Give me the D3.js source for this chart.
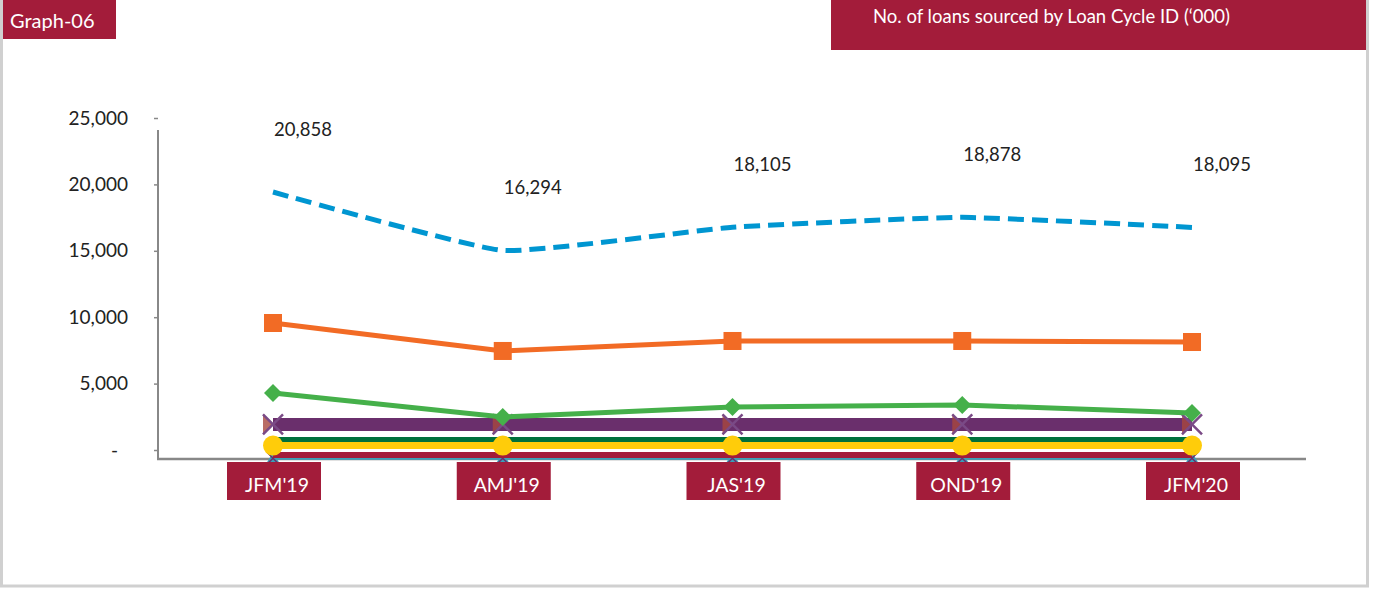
<!DOCTYPE html>
<html lang="en">
<head>
<meta charset="UTF-8">
<title>Graph-06</title>
<script src="https://d3js.org/d3.v7.min.js"></script>
<style>
  body { margin: 0; background: #fff; }
  svg { display: block; font-family: Lato, "Open Sans", sans-serif; }
</style>
</head>
<body>
<svg id="chart" width="1380" height="589"></svg>
<script>
// values in '000 loans
var quarters = ["JFM'19", "AMJ'19", "JAS'19", "OND'19", "JFM'20"];
var totalLoans = [20858, 16294, 18105, 18878, 18095];
var cycle1 = [10625, 8440, 9220, 9220, 9140];
var cycle2 = [5160, 3280, 4060, 4220, 3590];
var cycle3 = [2700, 2700, 2700, 2700, 2700];
var cycle4 = [1520, 1520, 1520, 1520, 1520];
var cycle5 = [1050, 1050, 1050, 1050, 1050];
var cycle6 = [310, 310, 310, 310, 310];
var cycle7 = [60, 60, 60, 60, 60];
var yTicks = [0, 5000, 10000, 15000, 20000, 25000];

var maroon = "#a31c3a";

var svg = d3.select("#chart");

// frame
svg.append("rect")
    .attr("x", 1.5).attr("y", -5)
    .attr("width", 1366).attr("height", 591)
    .attr("fill", "none").attr("stroke", "#d0d0d0").attr("stroke-width", 3);

// header boxes
svg.append("rect").attr("x", 3).attr("y", 0).attr("width", 113).attr("height", 39).attr("fill", maroon);
svg.append("text").attr("x", 10).attr("y", 28).attr("fill", "#fff")
    .attr("font-size", 20).text("Graph-06");

svg.append("rect").attr("x", 831).attr("y", 0).attr("width", 535).attr("height", 50).attr("fill", maroon);
svg.append("text").attr("x", 873).attr("y", 23).attr("fill", "#fff")
    .attr("font-size", 18.5).text("No. of loans sourced by Loan Cycle ID (\u2018000)");

// scales
var x = d3.scalePoint().domain(quarters).range([273, 1192]);
var yAxisScale = d3.scaleLinear().domain([0, 25000]).range([450, 118]);
var y = d3.scaleLinear().domain([0, 25000]).range([459, 139]);

// y axis
var axisG = svg.append("g")
    .attr("transform", "translate(158,0)")
    .call(d3.axisLeft(yAxisScale)
        .tickValues(yTicks)
        .tickSize(4)
        .tickPadding(26)
        .tickFormat(function (d) { return d === 0 ? "-" : d3.format(",")(d); }));
axisG.select(".domain").remove();
axisG.selectAll(".tick line").attr("stroke", "#888").attr("stroke-width", 1.5);
axisG.selectAll(".tick text")
    .attr("font-size", 19)
    .attr("fill", "#222")
    .attr("font-family", "Lato, 'Open Sans', sans-serif")
    .attr("dx", function (d) { return d === 0 ? -10 : 0; });

svg.append("line").attr("x1", 158).attr("x2", 158).attr("y1", 130).attr("y2", 460)
    .attr("stroke", "#888").attr("stroke-width", 2);
svg.append("line").attr("x1", 157).attr("x2", 1306).attr("y1", 459).attr("y2", 459)
    .attr("stroke", "#888").attr("stroke-width", 2.5);

function pts(values) {
    return values.map(function (v, i) { return [x(quarters[i]), y(v)]; });
}

var line = d3.line();

// series, bottom ones first
var series = [
    { values: cycle7, color: "#3a9fb8", width: 3, marker: "triangle" },
    { values: cycle6, color: maroon, width: 6, marker: "none" },
    { values: cycle4, color: "#00703c", width: 5, marker: "none" },
    { values: cycle5, color: "#ffcc0a", width: 7, marker: "circle" },
    { values: cycle3, color: "#6a2f6c", width: 13, marker: "cross" },
    { values: cycle2, color: "#45b04a", width: 5, marker: "diamond" },
    { values: cycle1, color: "#f26b25", width: 5, marker: "square" }
];

series.forEach(function (s) {
    var g = svg.append("g");
    g.append("path")
        .attr("d", line(pts(s.values)))
        .attr("fill", "none")
        .attr("stroke", s.color)
        .attr("stroke-width", s.width);

    var m = g.selectAll(".m").data(pts(s.values)).enter().append("g")
        .attr("transform", function (p) { return "translate(" + p[0] + "," + p[1] + ")"; });

    if (s.marker === "circle") {
        m.append("circle").attr("r", 10).attr("fill", s.color);
    } else if (s.marker === "square") {
        m.append("rect").attr("x", -9).attr("y", -9).attr("width", 18).attr("height", 18).attr("fill", s.color);
    } else if (s.marker === "diamond") {
        m.append("path").attr("d", "M0,-9L9,0L0,9L-9,0Z").attr("fill", s.color);
    } else if (s.marker === "triangle") {
        m.append("path").attr("d", "M0,-6L6,4L-6,4Z").attr("fill", s.color);
        m.append("path").attr("d", "M-6,-6L6,6M6,-6L-6,6").attr("stroke", "#6a2f6c").attr("stroke-width", 1.5);
    } else if (s.marker === "cross") {
        m.append("path").attr("d", "M-10,-10L0,0L-10,10Z").attr("fill", "#a8473f").attr("opacity", 0.8);
        m.append("path").attr("d", "M-10,-10L10,10M10,-10L-10,10")
            .attr("stroke", "#7a4a86").attr("stroke-width", 2.5);
    }
});

// total, dashed
svg.append("path")
    .attr("d", d3.line().curve(d3.curveCardinal.tension(0.6))(pts(totalLoans)))
    .attr("fill", "none")
    .attr("stroke", "#0096d1")
    .attr("stroke-width", 5)
    .attr("stroke-dasharray", "16,8");

svg.selectAll(".total-label").data(totalLoans).enter().append("text")
    .attr("class", "total-label")
    .attr("x", function (d, i) { return x(quarters[i]) + 30; })
    .attr("y", function (d) { return y(d) - 56; })
    .attr("text-anchor", "middle")
    .attr("font-size", 18.5)
    .attr("fill", "#222")
    .text(function (d) { return d3.format(",")(d); });

// category boxes
var cat = svg.selectAll(".cat").data(quarters).enter().append("g")
    .attr("class", "cat")
    .attr("transform", function (d) { return "translate(" + x(d) + ",0)"; });
cat.append("rect").attr("x", -46).attr("y", 462).attr("width", 94).attr("height", 38).attr("fill", maroon);
cat.append("text").attr("x", 4).attr("y", 492)
    .attr("text-anchor", "middle").attr("fill", "#fff").attr("font-size", 19.5)
    .text(function (d) { return d; });
</script>
</body>
</html>
